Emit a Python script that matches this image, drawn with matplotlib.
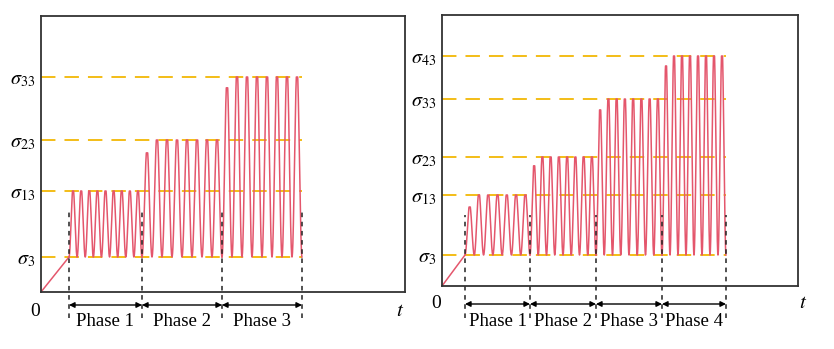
import numpy as np
import matplotlib
matplotlib.use("Agg")
import matplotlib.pyplot as plt

plt.rcParams['font.family'] = ['Liberation Serif', 'DejaVu Serif']
plt.rcParams['mathtext.fontset'] = 'stix'

# values (units = pixels from each panel's origin)
left_bounds = [28, 101, 181, 261]
left_levels = [35, 101, 152, 215]
left_names = [r'$\sigma_3$', r'$\sigma_{13}$', r'$\sigma_{23}$', r'$\sigma_{33}$']
left_cycles = [9, 8, 8]
left_first = [1.0, 0.89, 0.94]

right_bounds = [23, 88, 154, 220, 284]
right_levels = [31, 91, 129, 187, 230]
right_names = [r'$\sigma_3$', r'$\sigma_{13}$', r'$\sigma_{23}$', r'$\sigma_{33}$', r'$\sigma_{43}$']
right_cycles = [7, 8, 8, 8]
right_first = [0.8, 0.91, 0.93, 0.95]

RED = '#E4566C'
ORANGE = '#F2B705'


def draw_panel(ax, bounds, levels, names, cycles, first, xmax, ymax,
               vtop, vbot, arrow_y, label_y, txt_y, t_x):
    ax.set_xlim(0, xmax)
    ax.set_ylim(0, ymax)
    low = levels[0]
    # ramp from origin
    ax.plot([0, bounds[0]], [0, low], color=RED, lw=1.1)
    # cyclic loading in each phase
    for i in range(len(cycles)):
        x0, x1 = bounds[i], bounds[i + 1]
        hi = levels[i + 1]
        t = np.linspace(0, 1, 1500)
        u = cycles[i] * t
        w = np.minimum(1.0, 1.05 * (1 - np.cos(2 * np.pi * u)) / 2)
        amp = np.where(u < 1, first[i], 1.0)
        ax.plot(x0 + (x1 - x0) * t, low + (hi - low) * w * amp, color=RED, lw=1.1)
    # level lines
    for lv in levels:
        ax.plot([0, bounds[-1]], [lv, lv], color=ORANGE, lw=1.3,
                dashes=(8, 5), zorder=1)
    # phase separators, arrows and labels
    for b in bounds:
        ax.plot([b, b], [vbot, vtop], color='#222222', lw=1.1, dashes=(3, 3),
                clip_on=False)
    for i in range(len(bounds) - 1):
        ax.annotate('', xy=(bounds[i + 1], arrow_y), xytext=(bounds[i], arrow_y),
                    arrowprops=dict(arrowstyle='<|-|>', color='black', lw=1.0,
                                    shrinkA=0, shrinkB=0, mutation_scale=8),
                    annotation_clip=False)
        ax.text((bounds[i] + bounds[i + 1]) / 2, label_y, 'Phase %d' % (i + 1),
                ha='center', va='center', fontsize=13.5, clip_on=False)
    ax.text(-6, txt_y, '0', ha='center', va='center', fontsize=14, clip_on=False)
    ax.text(t_x, txt_y, '$t$', ha='center', va='center', fontsize=15, clip_on=False)
    ax.set_xticks([])
    ax.set_yticks(levels)
    ax.set_yticklabels(names, fontsize=14.5)
    ax.tick_params(axis='y', length=0, pad=4)
    for s in ax.spines.values():
        s.set_color('#333333')
        s.set_linewidth(1.3)


fig = plt.figure(figsize=(8.34, 3.49), dpi=100)
ax1 = fig.add_axes([41 / 834, 57 / 349, 364 / 834, 276 / 349])
ax2 = fig.add_axes([442 / 834, 63 / 349, 356 / 834, 271 / 349])

draw_panel(ax1, left_bounds, left_levels, left_names, left_cycles, left_first,
           364, 276, 82, -26, -13, -30, -20, 359)
draw_panel(ax2, right_bounds, right_levels, right_names, right_cycles, right_first,
           356, 271, 71, -32, -18, -36, -18, 361)

fig.savefig('out.png', dpi=100)
